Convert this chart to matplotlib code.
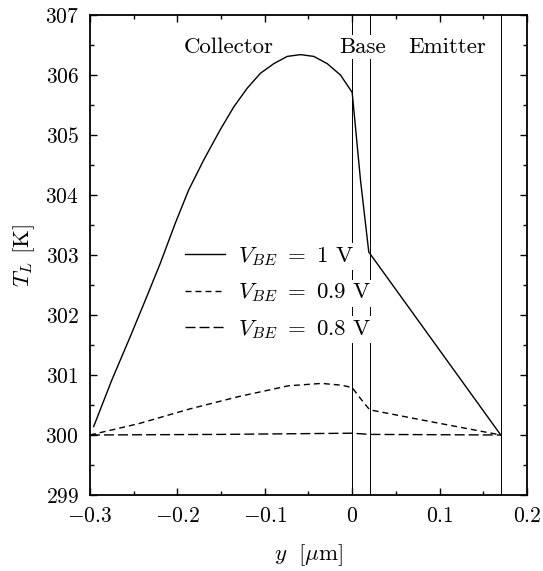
import matplotlib
matplotlib.use("Agg")
import matplotlib.pyplot as plt
from matplotlib.ticker import FixedLocator, FixedFormatter, MultipleLocator

plt.rcParams["font.family"] = "serif"
plt.rcParams["font.serif"] = ["cmr10", "DejaVu Serif"]
plt.rcParams["mathtext.fontset"] = "cm"
plt.rcParams["axes.unicode_minus"] = False

# V_BE = 1 V
y_1v = [-0.2958, -0.2749, -0.2539, -0.2349, -0.2196, -0.2024, -0.1872, -0.1700,
        -0.1509, -0.1354, -0.1201, -0.1049, -0.0896, -0.0743, -0.0591, -0.0439,
        -0.0286, -0.0134, 0.0, 0.0095, 0.019, 0.17]
t_1v = [300.14, 300.92, 301.64, 302.31, 302.86, 303.53, 304.08, 304.58,
        305.09, 305.47, 305.78, 306.03, 306.19, 306.31, 306.34, 306.31,
        306.19, 306.00, 305.71, 304.25, 303.05, 300.0]

# V_BE = 0.9 V
y_09v = [-0.30, -0.244, -0.187, -0.130, -0.073, -0.035, -0.012, 0.0, 0.011, 0.02, 0.08, 0.17]
t_09v = [300.0, 300.19, 300.43, 300.64, 300.82, 300.86, 300.83, 300.79, 300.58, 300.42, 300.25, 300.0]

# V_BE = 0.8 V
y_08v = [-0.30, -0.15, 0.0, 0.02, 0.17]
t_08v = [300.0, 300.01, 300.03, 300.01, 300.0]

# region boundaries and labels
boundaries = [0.0, 0.02, 0.17]
regions = ["Collector", "Base", "Emitter"]
region_x = [-0.141, 0.012, 0.109]

xticks = [-0.3, -0.2, -0.1, 0.0, 0.1, 0.2]
xticklabels = [r"$-0.3$", r"$-0.2$", r"$-0.1$", r"$0$", r"$0.1$", r"$0.2$"]
yticks = [299, 300, 301, 302, 303, 304, 305, 306, 307]
yticklabels = [r"$%d$" % v for v in yticks]

fig = plt.figure(figsize=(5.43, 5.71), dpi=100)
ax = fig.add_axes([0.1657, 0.1331, 0.8048, 0.8406])

for b in boundaries:
    ax.axvline(b, color="black", lw=0.7, zorder=1)

ax.plot(y_1v, t_1v, color="black", lw=1.0, label=r"$V_{BE}\ =\ 1$ V", zorder=2)
ax.plot(y_09v, t_09v, color="black", lw=1.0, dashes=(4.3, 2.9),
        label=r"$V_{BE}\ =\ 0.9$ V", zorder=2)
ax.plot(y_08v, t_08v, color="black", lw=1.0, dashes=(7.2, 2.9),
        label=r"$V_{BE}\ =\ 0.8$ V", zorder=2)

for name, x in zip(regions, region_x):
    ax.text(x, 306.47, name, ha="center", va="center", fontsize=16.5,
            bbox=dict(facecolor="white", edgecolor="none", pad=1.5), zorder=3)

ax.set_xlim(-0.3, 0.2)
ax.set_ylim(299, 307)
ax.xaxis.set_major_locator(FixedLocator(xticks))
ax.xaxis.set_major_formatter(FixedFormatter(xticklabels))
ax.xaxis.set_minor_locator(MultipleLocator(0.05))
ax.yaxis.set_major_locator(FixedLocator(yticks))
ax.yaxis.set_major_formatter(FixedFormatter(yticklabels))
ax.yaxis.set_minor_locator(MultipleLocator(0.5))
ax.tick_params(which="both", direction="in", top=True, right=True,
               labelsize=15.5, width=1.0)
ax.tick_params(which="major", length=5, pad=8)
ax.tick_params(which="minor", length=3)
for s in ax.spines.values():
    s.set_linewidth(1.3)

ax.set_xlabel(r"$y\ \ [\mu{\rm m}]$", fontsize=16.5, labelpad=12)
ax.set_ylabel(r"$T_L$ [K]", fontsize=16.5, labelpad=6)

leg = ax.legend(loc="upper left", bbox_to_anchor=(0.17, 0.563), frameon=False,
                fontsize=16.5, handlelength=1.75, handletextpad=0.57, labelspacing=0.58)
leg.set_zorder(5)
for t in leg.get_texts():
    t.set_bbox(dict(facecolor="white", edgecolor="none", pad=1.5))

fig.savefig("out.png", dpi=100)
